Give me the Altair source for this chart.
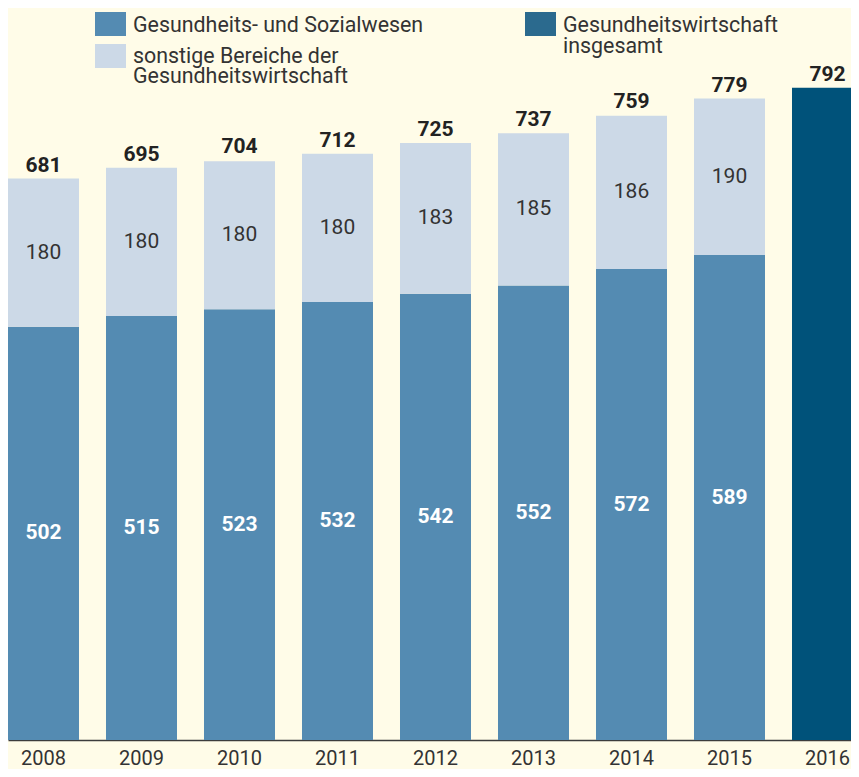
import altair as alt
import pandas as pd

years = ["2008", "2009", "2010", "2011", "2012", "2013", "2014", "2015", "2016"]
sozialwesen = [502, 515, 523, 532, 542, 552, 572, 589, None]
sonstige = [180, 180, 180, 180, 183, 185, 186, 190, None]
totals = [681, 695, 704, 712, 725, 737, 759, 779, 792]

cat_sozial = "Gesundheits- und Sozialwesen"
cat_sonst = "sonstige Bereiche der Gesundheitswirtschaft"
cat_total = "Gesundheitswirtschaft insgesamt"
categories = [cat_sozial, cat_sonst, cat_total]
bar_colors = ["#548bb2", "#ccd9e7", "#00527a"]
legend_colors = ["#548bb2", "#ccd9e7", "#2b6a8e"]

FONT = "Roboto"
TXT = "#333333"

rows = []
labs = []
for y, a, b, t in zip(years, sozialwesen, sonstige, totals):
    if a is None:
        rows.append(dict(year=y, cat=cat_total, value=t, ord=0))
        labs.append(dict(year=y, soz=None, soz_mid=None, son=None, son_mid=None, total=t))
    else:
        rows.append(dict(year=y, cat=cat_sozial, value=a, ord=0))
        rows.append(dict(year=y, cat=cat_sonst, value=b, ord=1))
        labs.append(dict(year=y, soz=a, soz_mid=a / 2, son=b, son_mid=a + b / 2, total=t))

bars_df = pd.DataFrame(rows)
lab_df = pd.DataFrame(labs)

xscale = alt.Scale(range=[0, 855], paddingInner=0.2755, paddingOuter=0)
yscale = alt.Scale(domain=[0, 889], nice=False, zero=True)
x_enc = alt.X(
    "year:N",
    scale=xscale,
    sort=years,
    axis=alt.Axis(
        title=None,
        labelAngle=0,
        ticks=False,
        domainColor="#3c3c3c",
        domainWidth=1.5,
        labelFont=FONT,
        labelFontSize=20,
        labelColor=TXT,
        labelPadding=8,
        grid=False,
    ),
)

bars = alt.Chart(bars_df).mark_bar().encode(
    x=x_enc,
    y=alt.Y("value:Q", stack="zero", scale=yscale, axis=None),
    color=alt.Color("cat:N", scale=alt.Scale(domain=categories, range=bar_colors), legend=None),
    order=alt.Order("ord:Q"),
)

lab_base = alt.Chart(lab_df)
soz_text = lab_base.transform_filter("datum.soz != null").mark_text(
    font=FONT, fontSize=21, fontWeight="bold", color="white", baseline="middle"
).encode(x=x_enc, y=alt.Y("soz_mid:Q", scale=yscale), text=alt.Text("soz:Q", format="d"))

son_text = lab_base.transform_filter("datum.son != null").mark_text(
    font=FONT, fontSize=21, color=TXT, baseline="middle"
).encode(x=x_enc, y=alt.Y("son_mid:Q", scale=yscale), text=alt.Text("son:Q", format="d"))

tot_text = lab_base.mark_text(
    font=FONT, fontSize=21, fontWeight="bold", color="#222222", baseline="alphabetic", dy=-7
).encode(x=x_enc, y=alt.Y("total:Q", scale=yscale), text=alt.Text("total:Q", format="d"))

one = pd.DataFrame({"k": [0]})

def square(x0, y0, color):
    return alt.Chart(one).mark_rect(color=color).encode(
        x=alt.value(x0), x2=alt.value(x0 + 31), y=alt.value(y0), y2=alt.value(y0 + 24)
    )

def label(x0, y0, lines, lh):
    return alt.Chart(one).mark_text(
        font=FONT, fontSize=21.4, color=TXT, align="left", baseline="alphabetic", lineHeight=lh
    ).encode(x=alt.value(x0), y=alt.value(y0), text=alt.value(lines))

legend = [
    square(87, 4, legend_colors[0]),
    label(125, 24, ["Gesundheits- und Sozialwesen"], 20),
    square(87, 36, legend_colors[1]),
    label(125, 55, ["sonstige Bereiche der", "Gesundheitswirtschaft"], 20),
    square(517, 4, legend_colors[2]),
    label(555, 24, ["Gesundheitswirtschaft", "insgesamt"], 21),
]

chart = alt.layer(bars, soz_text, son_text, tot_text, *legend).properties(
    width=843,
    height=732,
    background="#fffce8",
    padding={"left": 0, "top": 0, "right": 0, "bottom": 29},
    autosize=alt.AutoSizeParams(type="none"),
).configure_view(stroke=None)

chart.save("out.html", embed_options={"renderer": "svg", "actions": False})
